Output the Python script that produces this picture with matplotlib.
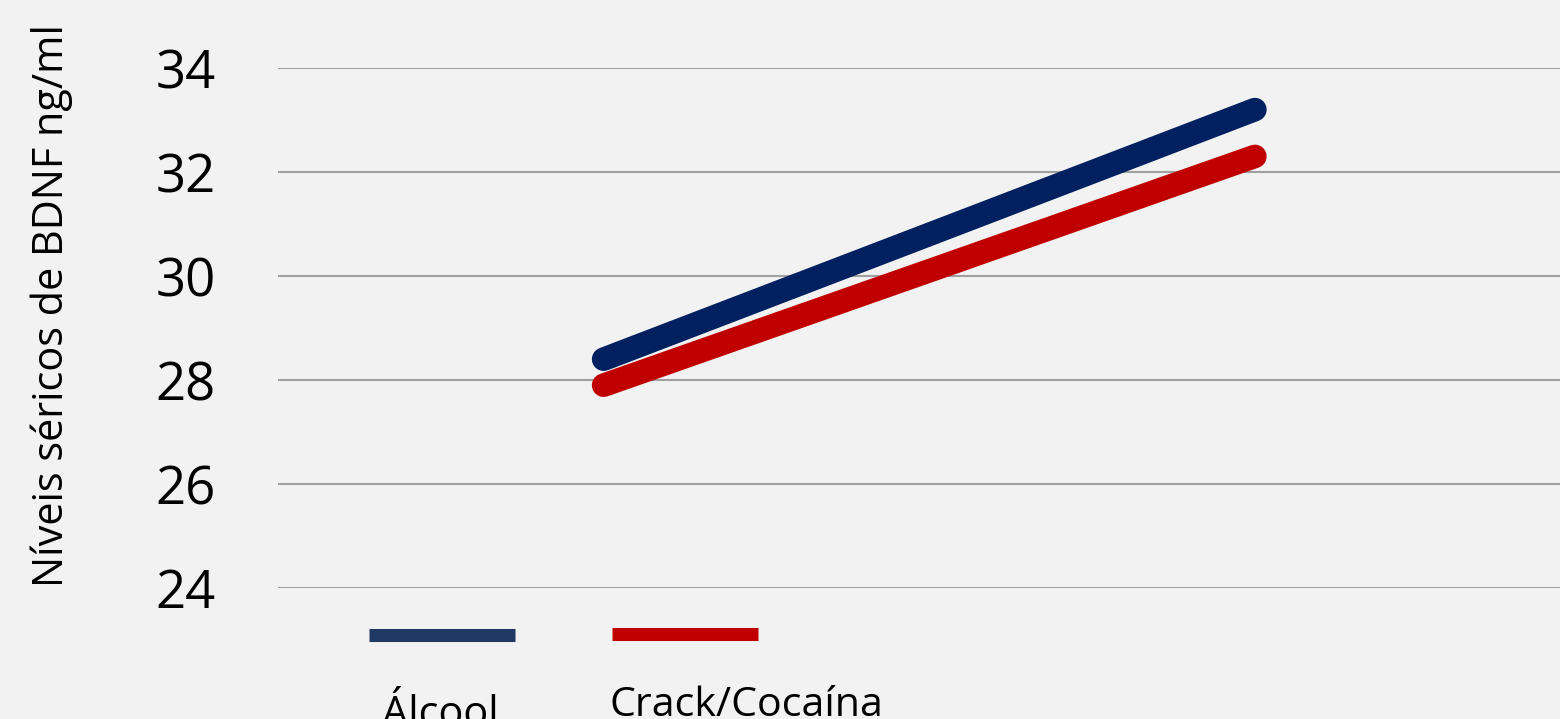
import matplotlib
matplotlib.use("Agg")
import matplotlib.pyplot as plt
from matplotlib.lines import Line2D

W, H, DPI = 1560, 719, 100

# ---- data ----
categories = [0, 1]
series_names = ["Álcool", "Crack/Cocaína"]
alcool = [28.4, 33.2]
crack = [27.9, 32.3]
y_ticks = [24, 26, 28, 30, 32, 34]
y_label = "Níveis séricos de BDNF ng/ml"

line_colors = ["#002060", "#c00000"]
legend_colors = ["#203864", "#c00000"]
BG = "#f2f2f2"
FONT = "Open Sans"

plt.rcParams["font.family"] = [FONT, "DejaVu Sans"]

fig = plt.figure(figsize=(W / DPI, H / DPI), dpi=DPI, facecolor=BG)

def fx(px):
    return px / W

def fy(py):
    return 1 - py / H

ax_left, ax_right = 278, 1560
ax_top, ax_bot = 68, 588
ax = fig.add_axes([fx(ax_left), fy(ax_bot), fx(ax_right - ax_left), (ax_bot - ax_top) / H])
ax.set_facecolor(BG)

for vals, c in zip([alcool, crack], line_colors):
    ax.plot(categories, vals, color=c, lw=17, solid_capstyle="round", clip_on=False, zorder=3)

ax.set_ylim(24, 34)
ax.set_xlim(-0.5, 1.4685)
ax.set_yticks(y_ticks)
ax.set_yticklabels([str(t) for t in y_ticks])
ax.set_xticks([])
ax.tick_params(axis="y", length=0, pad=45, labelsize=38, labelcolor="black")
ax.grid(axis="y", color="#a0a0a0", lw=1.5)
ax.set_axisbelow(True)
for s in ax.spines.values():
    s.set_visible(False)

# y label
ylab = fig.text(fx(52), fy(306), y_label, rotation=90, ha="center", va="center",
                fontsize=26, color="black")

# legend swatches and labels (manual layout, labels under swatches)
sw = [(369, 515, 635), (612, 758, 634)]
for (x0, x1, yy), c in zip(sw, legend_colors):
    fig.add_artist(Line2D([fx(x0), fx(x1)], [fy(yy), fy(yy)], transform=fig.transFigure,
                          color=c, lw=9.4, solid_capstyle="butt"))

lab1 = fig.text(fx(382), fy(726), series_names[0], ha="left", va="baseline", fontsize=30, color="black")
lab2 = fig.text(fx(610), fy(716), series_names[1], ha="left", va="baseline", fontsize=30, color="black")

# fit text sizes to reference extents
fig.canvas.draw()
r = fig.canvas.get_renderer()
def fit(t, target, use_h=False):
    bb = t.get_window_extent(r)
    cur = bb.height if use_h else bb.width
    t.set_fontsize(t.get_fontsize() * target / cur)

fit(ylab, 566, use_h=True)
fit(lab1, 117)
fit(lab2, 273)

fig.savefig("out.png", dpi=DPI, facecolor=BG)
